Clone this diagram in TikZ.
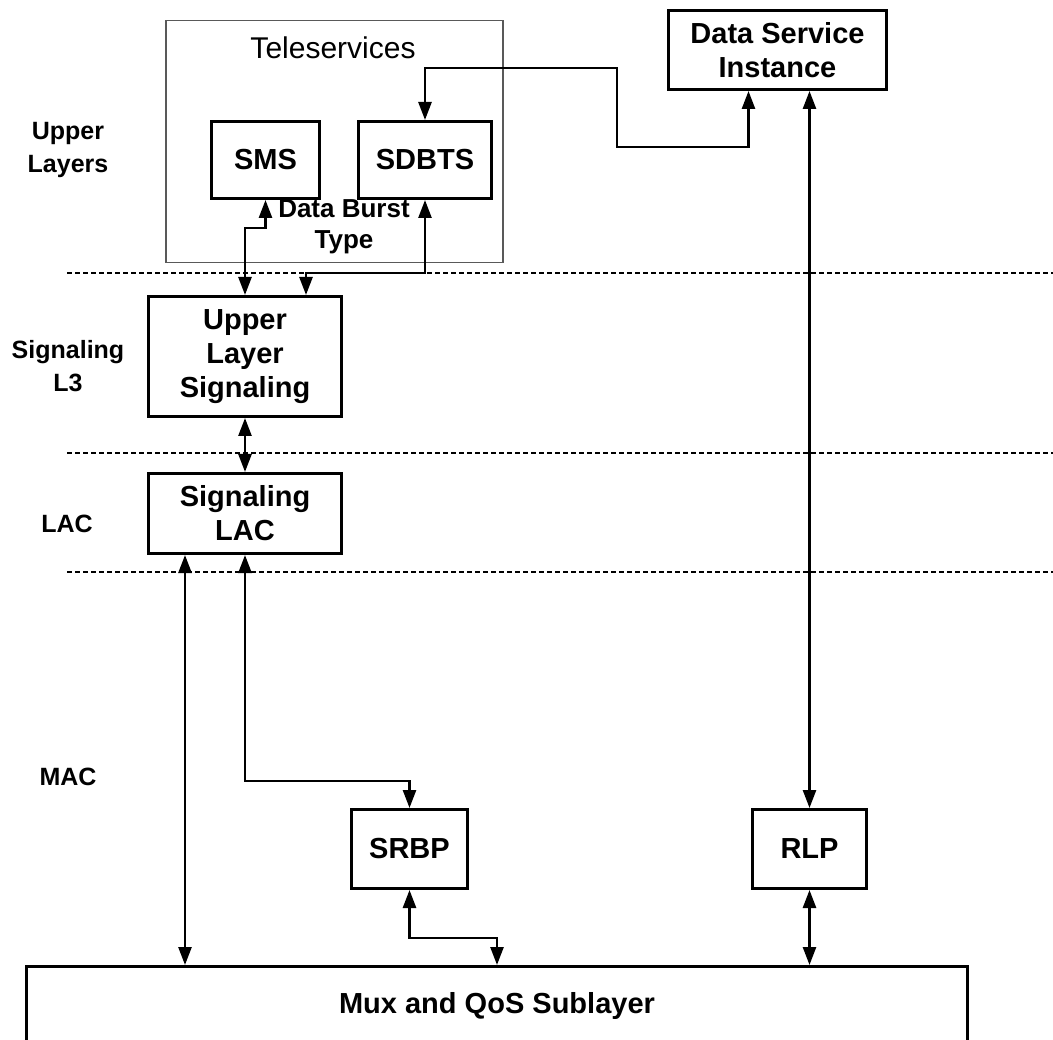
\documentclass[tikz,border=0pt]{standalone}
\usetikzlibrary{arrows.meta}
\usepackage{fontspec}
\setmainfont{Liberation Sans}

\begin{document}
\begin{tikzpicture}[x=1pt, y=-1pt,
        box/.style={draw, line width=3, inner sep=0, align=center, anchor=north west,
            font=\fontsize{29}{34}\selectfont\bfseries},
        layer/.style={align=center, font=\fontsize{25}{33}\selectfont\bfseries},
        link/.style={line width=2.6, {Triangle[length=18pt,width=13pt]}-{Triangle[length=18pt,width=13pt]}},
        sep/.style={line width=1.3, dash pattern=on 5pt off 3pt}]
        \useasboundingbox (0,0) rectangle (1053,1040);
        \clip (0,0) rectangle (1053,1040);

        \foreach \y in {273,453,572}
            \draw[sep] (67,\y) -- (1053,\y);

        \node[draw=black!65, line width=1.5, inner sep=0, anchor=north west, minimum width=337, minimum height=242] (tele) at (165,20) {};
        \node[font=\fontsize{30}{36}\selectfont] (teletitle) at (333,48) {Teleservices};
        \node[box, minimum width=108, minimum height=77] (sms) at (210,120) {SMS};
        \node[box, minimum width=133, minimum height=77] (sdbts) at (357,120) {SDBTS};
        \node[align=center, font=\fontsize{26}{31}\selectfont\bfseries] (burst) at (344,227) {Data Burst\\Type};
        \node[box, minimum width=218, minimum height=79] (dsi) at (667,9) {Data Service\\Instance};

        \node[box, minimum width=193, minimum height=120] (uls) at (147,295) {Upper\\Layer\\Signaling};
        \node[box, minimum width=193, minimum height=80] (slac) at (147,472) {Signaling\\LAC};
        \node[box, minimum width=116, minimum height=79] (srbp) at (350,808) {SRBP};
        \node[box, minimum width=114, minimum height=79] (rlp) at (751,808) {RLP};
        \node[box, minimum width=941, minimum height=78] (mux) at (25,965) {Mux and QoS Sublayer};

        \node[layer] (upper) at (68,150) {Upper\\Layers};
        \node[layer] (sigl3) at (68,366) {Signaling\\L3};
        \node[layer] (lac) at (67,524) {LAC};
        \node[layer] (mac) at (68,777) {MAC};

        \draw[link] (uls.north) -- ++(0,-67) -| (sms.south);
        \draw[link] ([xshift=61pt]uls.north) -- ++(0,-22) -| (sdbts.south);
        \draw[link] (sdbts.north) |- (617,68) -- (617,147) -| ([xshift=-29pt]dsi.south);
        \draw[link] ([xshift=32pt]dsi.south) -- (rlp.north);
        \draw[link] (uls.south) -- (slac.north);
        \draw[link] ([xshift=-60pt]slac.south) -- ([xshift=-60pt]slac.south |- mux.north);
        \draw[link] (slac.south) -- ++(0,226) -| (srbp.north);
        \draw[link] (srbp.south) -- ++(0,48) -| (mux.north);
        \draw[link] (rlp.south) -- (rlp.south |- mux.north);

\end{tikzpicture}
\end{document}
